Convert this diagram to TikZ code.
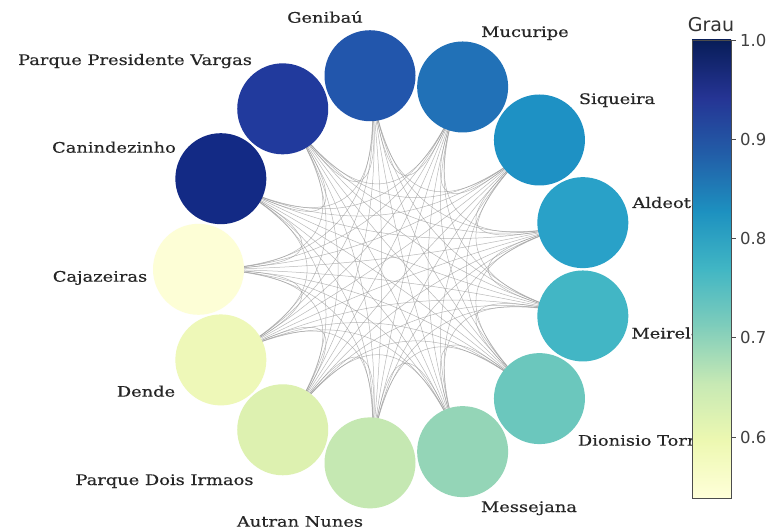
\documentclass[tikz,border=0pt]{standalone}
\usepackage{fontspec}
\usetikzlibrary{calc}
\newfontfamily\lblfont[FakeStretch=1.23,FakeBold=0.4]{DejaVu Serif}
\newfontfamily\barfont{DejaVu Sans}

% node fill colours (YlGnBu scale)
\definecolor{c0}{HTML}{FDFED6}
\definecolor{c1}{HTML}{132A85}
\definecolor{c2}{HTML}{213A9D}
\definecolor{c3}{HTML}{2256AC}
\definecolor{c4}{HTML}{2171B7}
\definecolor{c5}{HTML}{1E91C4}
\definecolor{c6}{HTML}{29A1C8}
\definecolor{c7}{HTML}{42B6C5}
\definecolor{c8}{HTML}{6BC7BD}
\definecolor{c9}{HTML}{94D5B7}
\definecolor{c10}{HTML}{C5E8B2}
\definecolor{c11}{HTML}{DDF1B0}
\definecolor{c12}{HTML}{EEF8B8}
% colour bar stops
\definecolor{ya}{HTML}{FFFFD9}
\definecolor{yb}{HTML}{EDF8B1}
\definecolor{yc}{HTML}{C7E9B4}
\definecolor{yd}{HTML}{7FCDBB}
\definecolor{ye}{HTML}{41B6C4}
\definecolor{yf}{HTML}{1D91C0}
\definecolor{yg}{HTML}{225EA8}
\definecolor{yh}{HTML}{253494}
\definecolor{yi}{HTML}{081D58}

\pgfdeclarelayer{bg}
\pgfsetlayers{bg,main}

\tikzset{
  vert/.style={circle, minimum size=91bp, inner sep=0pt, draw=none},
  lbl/.style={font=\lblfont\fontsize{14.5bp}{16bp}\selectfont, text=black!85, anchor=base, inner sep=0pt},
  link/.style={draw=black!42, line width=0.5bp, opacity=0.65},
  ticklbl/.style={font=\barfont\fontsize{16.5bp}{18bp}\selectfont, text=black!75, anchor=west, inner sep=0pt},
}

\begin{document}
\begin{tikzpicture}[x=1bp,y=-1bp]
\useasboundingbox (0,0) rectangle (773,531);

\coordinate (o) at (393.5,269.3);

% vertices on a circle
\foreach \k in {0,...,12}
  \node[vert, fill=c\k] (n\k) at ({393.5+195*cos(180-\k*27.6923)},{269.3-195*sin(180-\k*27.6923)}) {};

% complete graph, edges bent through the centre
\begin{pgfonlayer}{bg}
\fill[white] (0,0) rectangle (773,531);
\foreach \i in {0,...,11}{
  \pgfmathtruncatemacro\jstart{\i+1}
  \foreach \j in {\jstart,...,12}
    \draw[link] (n\i.center) .. controls ($(n\i.center)!0.6667!(o)$) and ($(n\j.center)!0.6667!(o)$) .. (n\j.center);
}
\end{pgfonlayer}

% vertex labels
\node[lbl] (l0) at (100,281.7) {Cajazeiras};
\node[lbl] (l1) at (114,152.7) {Canindezinho};
\node[lbl] (l2) at (135,65) {Parque Presidente Vargas};
\node[lbl] (l3) at (325,22.7) {Genibaú};
\node[lbl] (l4) at (525,37) {Mucuripe};
\node[lbl] (l5) at (617,104) {Siqueira};
\node[lbl] (l6) at (667,208) {Aldeota};
\node[lbl] (l7) at (671,338.5) {Meireles};
\node[lbl] (l8) at (646.5,445.7) {Dionisio Torres};
\node[lbl] (l9) at (529,512) {Messejana};
\node[lbl] (l10) at (300,526.7) {Autran Nunes};
\node[lbl] (l11) at (164.5,485) {Parque Dois Irmaos};
\node[lbl] (l12) at (146,396.7) {Dende};

% colour bar
\fill[white] (692,40) rectangle (731,498);
\foreach \s/\lo/\hi in {0/ya/yb,1/yb/yc,2/yc/yd,3/yd/ye,4/ye/yf,5/yf/yg,6/yg/yh,7/yh/yi}
  \shade[bottom color=\lo, top color=\hi] (692,{498-\s*57.25+0.3}) rectangle (731,{498-(\s+1)*57.25-0.3});
\draw[black!70, line width=0.8bp] (692,40) rectangle (731,498);
\foreach \v/\t [count=\n] in {1.0/1.0,0.9/0.9,0.8/0.8,0.7/0.7,0.6/0.6}{
  \draw[black!70, line width=0.8bp] (731,{40+(1-\v)*992.5}) -- (736,{40+(1-\v)*992.5});
  \node[ticklbl] (tk\n) at (740,{40+(1-\v)*992.5}) {\t};
}
\node[font=\barfont\fontsize{19bp}{20bp}\selectfont, text=black!80, anchor=base, inner sep=0pt] (grau) at (711,32) {Grau};
\end{tikzpicture}
\end{document}
